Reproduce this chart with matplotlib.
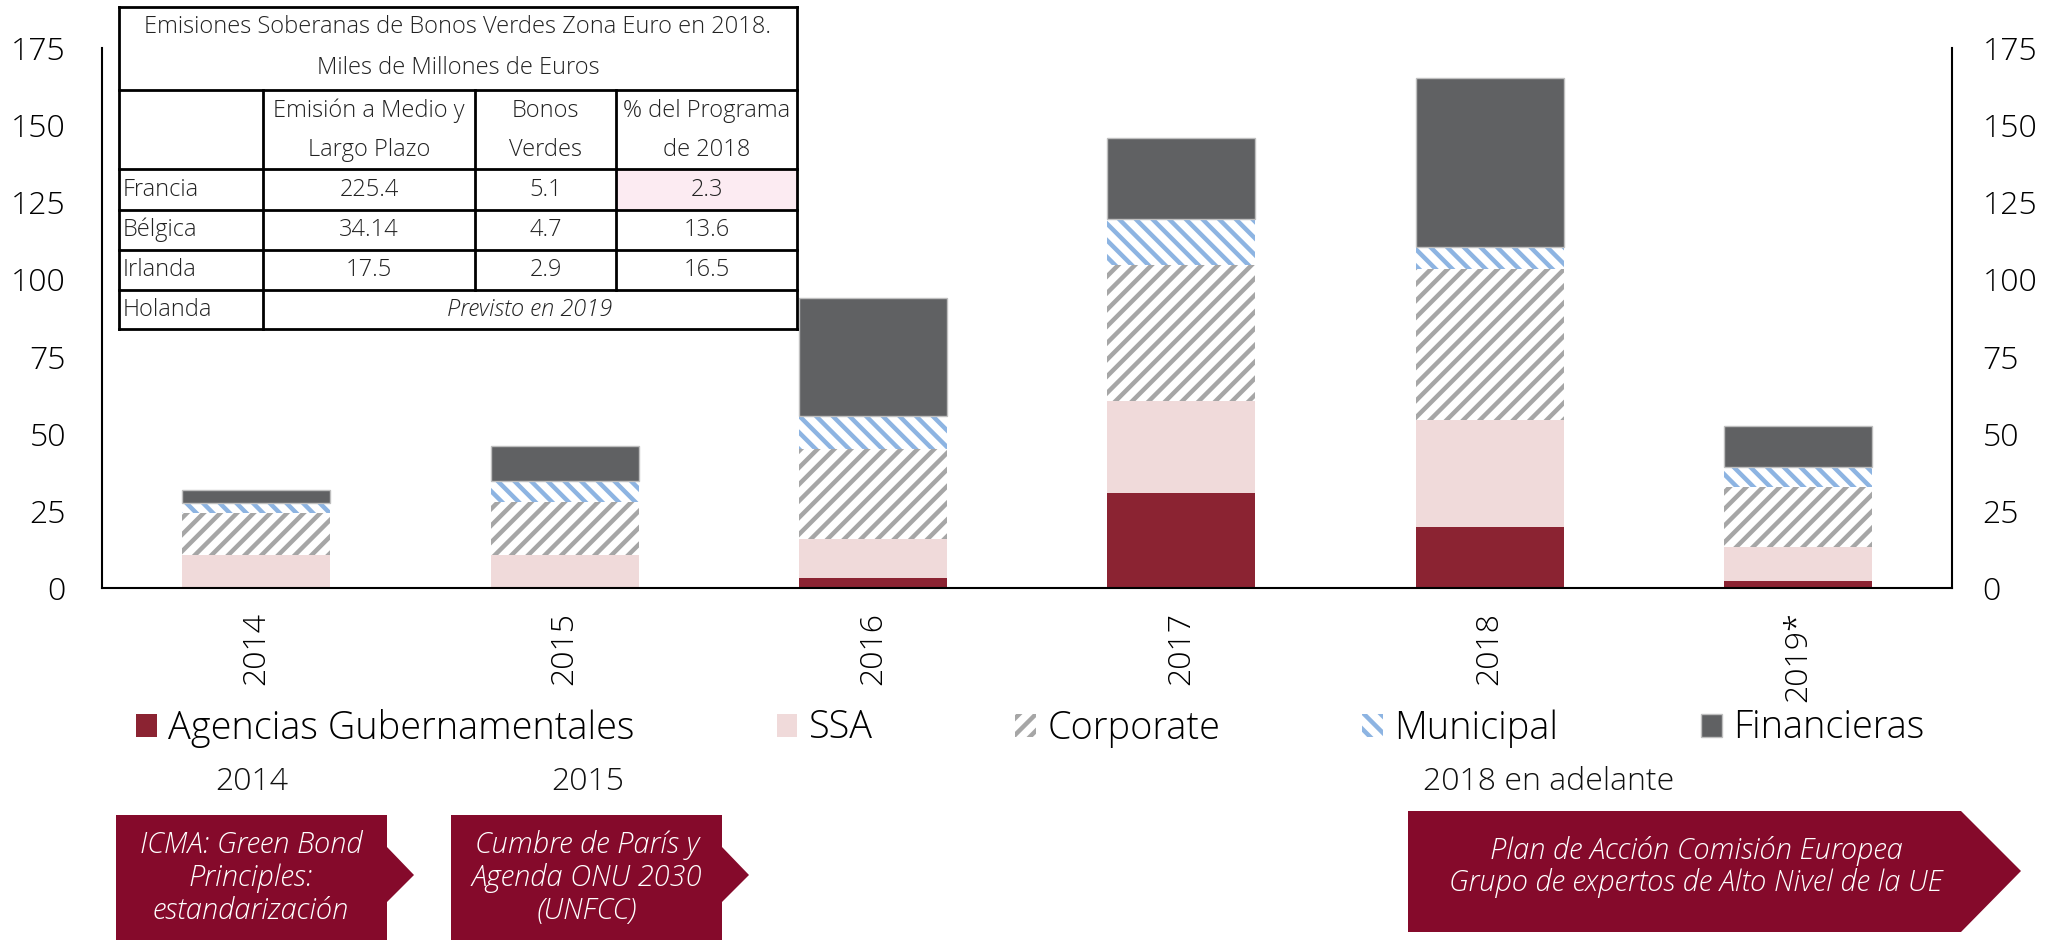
import matplotlib
matplotlib.use("Agg")
from matplotlib import pyplot as plt
from matplotlib.patches import Polygon, Rectangle

plt.rcParams['font.family'] = ['Open Sans', 'DejaVu Sans']
plt.rcParams['font.weight'] = 'light'
plt.rcParams['hatch.linewidth'] = 3.2

# bar data (miles de millones de euros)
years = ['2014', '2015', '2016', '2017', '2018', '2019*']
agencias = [0, 0, 3.2, 30.8, 19.9, 2.2]
ssa = [10.6, 10.6, 12.6, 29.7, 34.4, 11.0]
corporate = [13.8, 17.3, 29.1, 44.2, 49.1, 19.4]
municipal = [3.1, 6.7, 10.7, 14.8, 7.0, 6.5]
financieras = [4.1, 11.4, 38.5, 26.4, 54.9, 13.5]
yticks = [0, 25, 50, 75, 100, 125, 150, 175]

# table data
tabla_titulo = ["Emisiones Soberanas de Bonos Verdes Zona Euro en 2018.", "Miles de Millones de Euros"]
tabla_cols = [["Emisión a Medio y", "Largo Plazo"], ["Bonos", "Verdes"], ["% del Programa", "de 2018"]]
paises = ['Francia', 'Bélgica', 'Irlanda', 'Holanda']
emision = ['225.4', '34.14', '17.5']
verdes = ['5.1', '4.7', '2.9']
pct = ['2.3', '13.6', '16.5']
holanda_txt = 'Previsto en 2019'

# timeline
hitos_anio = ['2014', '2015', '2018 en adelante']
hitos_txt = ['ICMA: Green Bond\nPrinciples:\nestandarización',
             'Cumbre de París y\nAgenda ONU 2030\n(UNFCC)',
             'Plan de Acción Comisión Europea\nGrupo de expertos de Alto Nivel de la UE']

W, H = 2050, 940
fig = plt.figure(figsize=(W / 100, H / 100), dpi=100)
ax = fig.add_axes([102 / W, 1 - 588 / H, (1952 - 102) / W, (588 - 48) / H])

x = list(range(len(years)))
bw = 0.48
b1 = ax.bar(x, agencias, bw, color='#8B2332', linewidth=0, label='Agencias Gubernamentales')
bot = list(agencias)
b2 = ax.bar(x, ssa, bw, bottom=bot, color='#F0DADA', linewidth=0, label='SSA')
bot = [a + b for a, b in zip(bot, ssa)]
b3 = ax.bar(x, corporate, bw, bottom=bot, facecolor='white', edgecolor='#A6A6A6',
            hatch='//', linewidth=0, label='Corporate')
bot = [a + b for a, b in zip(bot, corporate)]
b4 = ax.bar(x, municipal, bw, bottom=bot, facecolor='white', edgecolor='#8DB4E2',
            hatch='\\\\', linewidth=0, label='Municipal')
bot = [a + b for a, b in zip(bot, municipal)]
b5 = ax.bar(x, financieras, bw, bottom=bot, color='#606163', edgecolor='#BFBFBF',
            linewidth=1, label='Financieras')

ax.set_xlim(-0.5, len(years) - 0.5)
ax.set_ylim(0, 175)
ax.set_yticks(yticks)
ax.set_xticks(x)
ax.set_xticklabels(years, rotation=90, fontsize=23, va='top')
ax.tick_params(axis='x', length=0, pad=17)
ax.tick_params(axis='y', length=0, pad=26, labelsize=23)
ax.spines['top'].set_visible(False)
for s in ['left', 'right', 'bottom']:
    ax.spines[s].set_linewidth(1.5)
    ax.spines[s].set_color('black')

ax2 = ax.twinx()
ax2.set_ylim(0, 175)
ax2.set_yticks(yticks)
ax2.tick_params(axis='y', length=0, pad=22, labelsize=23)
for s in ax2.spines.values():
    s.set_visible(False)

fig.legend(handles=[b1, b2, b3, b4, b5], loc='center', bbox_to_anchor=(1030 / W, 1 - 728 / H),
           ncol=5, frameon=False, fontsize=27.3, handlelength=0.55, handleheight=0.55,
           handletextpad=0.3, columnspacing=3.75)

# overlay in pixel coordinates for table and timeline
ov = fig.add_axes([0, 0, 1, 1])
ov.set_xlim(0, W)
ov.set_ylim(H, 0)
ov.axis('off')

tl, tr = 119, 797
cols = [tl, 263, 475, 616, tr]
rows = [7, 90, 169, 210, 250, 290, 329]
ov.add_patch(Rectangle((tl, rows[0]), tr - tl, rows[-1] - rows[0], facecolor='white', edgecolor='none'))
ov.add_patch(Rectangle((cols[3], rows[2]), cols[4] - cols[3], rows[3] - rows[2],
                       facecolor='#FCEBF2', edgecolor='none'))
lw = 2
for yy in rows:
    ov.plot([tl, tr], [yy, yy], color='black', lw=lw, solid_capstyle='projecting')
ov.plot([tl, tl], [rows[0], rows[-1]], color='black', lw=lw)
ov.plot([tr, tr], [rows[0], rows[-1]], color='black', lw=lw)
ov.plot([cols[1], cols[1]], [rows[1], rows[-1]], color='black', lw=lw)
for c in cols[2:4]:
    ov.plot([c, c], [rows[1], rows[-2]], color='black', lw=lw)

tfs = 17
ov.text((tl + tr) / 2, 27, tabla_titulo[0], ha='center', va='center', fontsize=tfs, color='#222222')
ov.text((tl + tr) / 2, 68, tabla_titulo[1], ha='center', va='center', fontsize=tfs, color='#222222')
for i, (l1, l2) in enumerate(tabla_cols):
    cx = (cols[i + 1] + cols[i + 2]) / 2
    ov.text(cx, 111, l1, ha='center', va='center', fontsize=tfs, color='#222222')
    ov.text(cx, 150, l2, ha='center', va='center', fontsize=tfs, color='#222222')
for j, p in enumerate(paises):
    cy = (rows[j + 2] + rows[j + 3]) / 2
    ov.text(tl + 4, cy, p, ha='left', va='center', fontsize=tfs, color='#222222')
    if j < 3:
        for k, v in enumerate([emision[j], verdes[j], pct[j]]):
            cx = (cols[k + 1] + cols[k + 2]) / 2
            ov.text(cx, cy, v, ha='center', va='center', fontsize=tfs, color='#222222')
    else:
        ov.text((cols[1] + tr) / 2, cy, holanda_txt, ha='center', va='center', fontsize=tfs,
                style='italic', color='#222222')

# timeline arrows
red = '#850A2B'
shapes = [
    [(116, 815), (387, 815), (387, 847), (414, 875), (387, 902), (387, 940), (116, 940)],
    [(451, 815), (722, 815), (722, 847), (749, 875), (722, 902), (722, 940), (451, 940)],
    [(1408, 811), (1961, 811), (2021, 871), (1961, 932), (1408, 932)],
]
for pts in shapes:
    ov.add_patch(Polygon(pts, closed=True, facecolor=red, edgecolor='none'))

ov.text(252, 782, hitos_anio[0], ha='center', va='center', fontsize=23, color='#111111')
ov.text(588, 782, hitos_anio[1], ha='center', va='center', fontsize=23, color='#111111')
ov.text(1549, 782, hitos_anio[2], ha='center', va='center', fontsize=23, color='#111111')

ov.text(251, 878, hitos_txt[0], ha='center', va='center', fontsize=21, style='italic',
        color='white', linespacing=1.15)
ov.text(587, 878, hitos_txt[1], ha='center', va='center', fontsize=21, style='italic',
        color='white', linespacing=1.15)
ov.text(1696, 867, hitos_txt[2], ha='center', va='center', fontsize=21, style='italic',
        color='white', linespacing=1.1)

fig.savefig('out.png', dpi=100)
